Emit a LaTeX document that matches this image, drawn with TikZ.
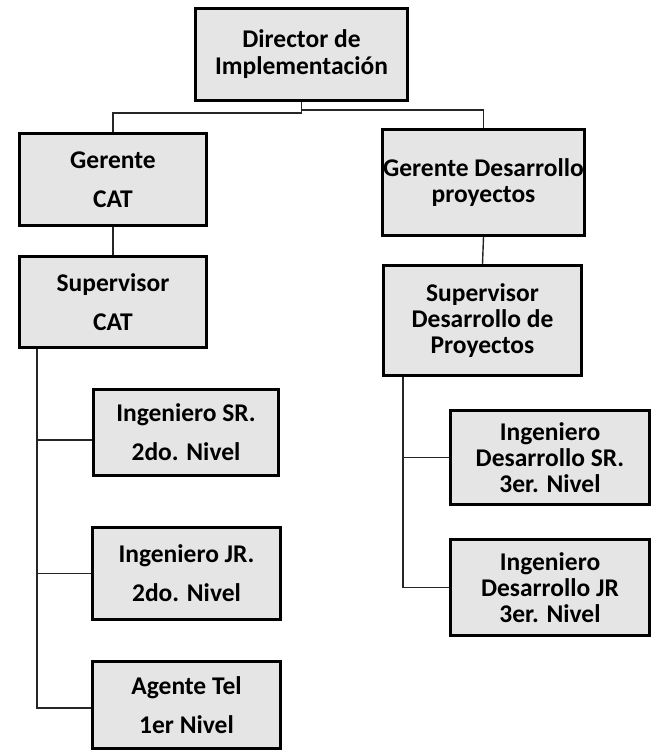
\documentclass[tikz,border=0pt]{standalone}
\usepackage{fontspec}
\setmainfont{Carlito}
\usetikzlibrary{calc}
\begin{document}
\begin{tikzpicture}[x=1pt,y=-1pt,
  orgbox/.style={draw=black,line width=3pt,fill=black!10,inner sep=0pt,
    align=center,font=\fontsize{25.5}{26}\selectfont\bfseries},
  link/.style={draw=black!85,line width=1.4pt}]
\useasboundingbox (0,0) rectangle (654,753);

% boxes
\node[orgbox,minimum width=212,minimum height=92] (dir) at (301.5,54.5) {Director de\\[1pt]Implementación};
\node[orgbox,minimum width=187,minimum height=92] (gc) at (113,179.5) {Gerente\\[13pt]CAT};
\node[orgbox,minimum width=187,minimum height=91] (sc) at (113,302) {Supervisor\\[13pt]CAT};
\node[orgbox,minimum width=185,minimum height=86] (isr) at (186,432.5) {Ingeniero SR.\\[13pt]2do. Nivel};
\node[orgbox,minimum width=188,minimum height=92] (ijr) at (186.5,573.5) {Ingeniero JR.\\[13pt]2do. Nivel};
\node[orgbox,minimum width=188,minimum height=87] (ag) at (186.5,705) {Agente Tel\\[13pt]1er Nivel};
\node[orgbox,minimum width=202,minimum height=106] (gd) at (483.5,182.5) {Gerente Desarrollo\\proyectos};
\node[orgbox,minimum width=198,minimum height=110] (sd) at (482.5,320.5) {Supervisor\\Desarrollo de\\Proyectos};
\node[orgbox,minimum width=199,minimum height=94] (idsr) at (550,457.5) {Ingeniero\\Desarrollo SR.\\3er. Nivel};
\node[orgbox,minimum width=199,minimum height=96] (idjr) at (550,587.5) {Ingeniero\\Desarrollo JR\\3er. Nivel};

% spine coordinates
\coordinate (lspine) at ($(sc.south west)+(19,0)$);
\coordinate (rspine) at ($(sd.south west)+(21,0)$);

% connectors
\draw[link] (dir.south) -- ++(0,11) -| (gc.north);
\draw[link] (dir.south) -- ++(0,8) -| (gd.north);
\draw[link] (gc.south) -- (sc.north);
\draw[link] (gd.south) -- (sd.north);
\draw[link] (lspine) |- ($(isr.west)+(0,7.5)$);
\draw[link] (lspine) |- (ijr.west);
\draw[link] (lspine) |- ($(ag.west)+(0,3)$);
\draw[link] (rspine) |- (idsr.west);
\draw[link] (rspine) |- (idjr.west);
\end{tikzpicture}
\end{document}
